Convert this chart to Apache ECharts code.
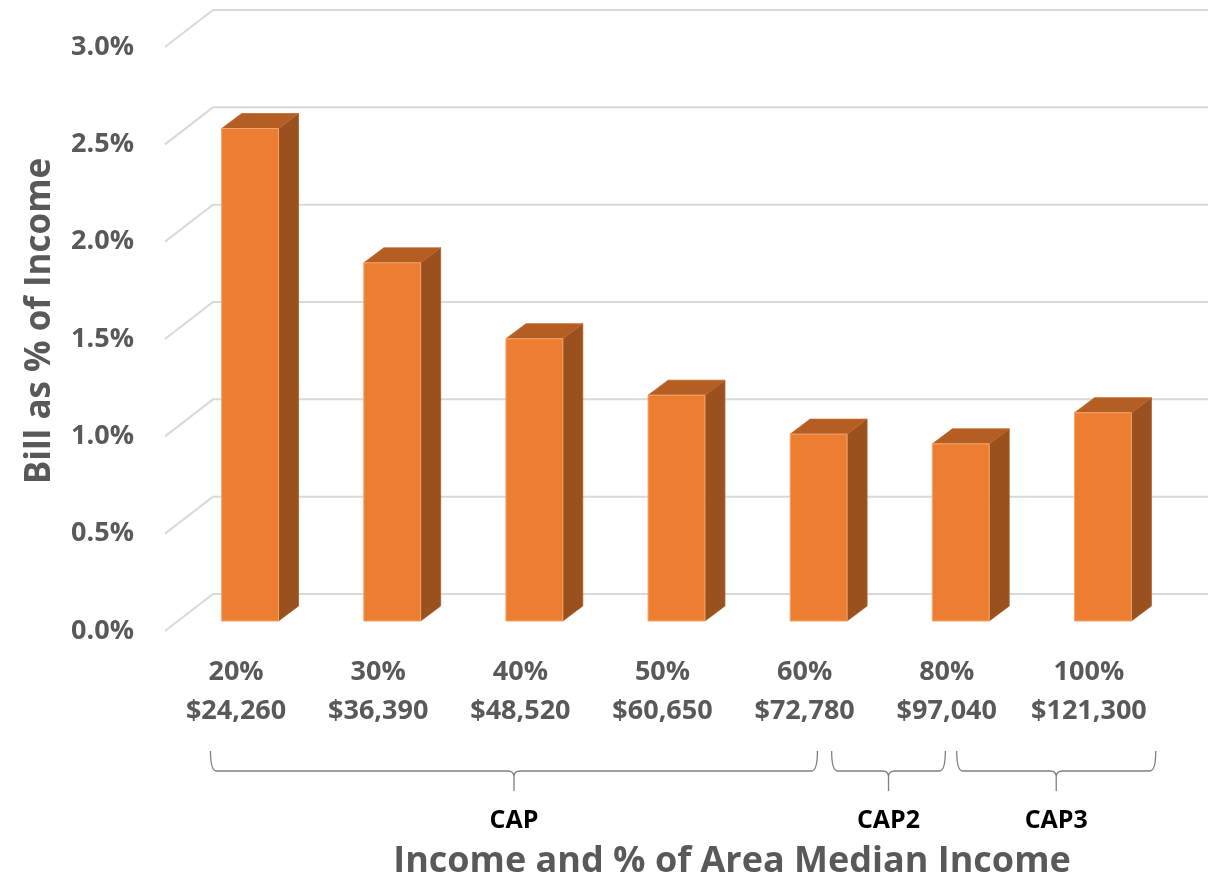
<!DOCTYPE html>
<html>
<head>
<meta charset="utf-8">
<script src="https://cdn.jsdelivr.net/npm/echarts@6/dist/echarts.min.js"></script>
<style>
html,body{margin:0;padding:0;background:#fff;}
#chart{width:1214px;height:880px;}
</style>
</head>
<body>
<div id="chart"></div>
<script>
// ---- data ----
const amiLabels = ['20%', '30%', '40%', '50%', '60%', '80%', '100%'];
const incomeLabels = ['$24,260', '$36,390', '$48,520', '$60,650', '$72,780', '$97,040', '$121,300'];
const billPct = [2.53, 1.84, 1.45, 1.16, 0.96, 0.91, 1.07];
const yTicks = [0, 0.5, 1.0, 1.5, 2.0, 2.5, 3.0];
const groupNames = ['CAP', 'CAP2', 'CAP3'];
const groupStart = [-0.18, 4.19, 5.07];   // in category units (0 = first category centre)
const groupEnd = [4.09, 4.99, 6.47];

// ---- styles ----
const DEPTH_X = 48, DEPTH_Y = -37;   // back-wall offset
const BAR_FX = 14, BAR_FY = -10;     // bar front face offset into floor
const BAR_DX = 20, BAR_DY = -15;     // bar depth
const TXT = '#595959';
const FONT = '"Open Sans", "DejaVu Sans", sans-serif';

const chart = echarts.init(document.getElementById('chart'), null, {renderer: 'canvas'});

const option = {
  backgroundColor: '#ffffff',
  animation: false,
  grid: {left: 165, right: 54, top: 47, bottom: 249, containLabel: false},
  xAxis: {
    type: 'category',
    data: amiLabels,
    axisLine: {show: false},
    axisTick: {show: false},
    splitLine: {show: false},
    axisLabel: {
      margin: 22,
      color: TXT,
      fontFamily: FONT,
      fontWeight: 'bold',
      fontSize: 27,
      lineHeight: 39,
      interval: 0,
      formatter: (v, i) => v + '\n' + incomeLabels[i]
    }
  },
  yAxis: {
    type: 'value',
    min: 0, max: 3, interval: 0.5,
    axisLine: {show: false},
    axisTick: {show: false},
    splitLine: {show: false},
    axisLabel: {
      margin: 31,
      color: TXT,
      fontFamily: FONT,
      fontWeight: 'bold',
      fontSize: 27,
      formatter: v => v.toFixed(1) + '%'
    }
  },
  graphic: [
    {
      type: 'text',
      x: 40, y: 321,
      rotation: Math.PI / 2,
      style: {
        text: 'Bill as % of Income',
        x: 0, y: 0,
        fill: TXT,
        font: 'bold 35px ' + FONT,
        align: 'center',
        verticalAlign: 'middle'
      },
      silent: true
    },
    {
      type: 'text',
      x: 732, y: 862,
      style: {
        text: 'Income and % of Area Median Income',
        x: 0, y: 0,
        fill: TXT,
        font: 'bold 36px ' + FONT,
        align: 'center',
        verticalAlign: 'middle'
      },
      silent: true
    }
  ],
  series: [
    {
      type: 'custom',
      name: 'gridlines',
      clip: false,
      silent: true,
      z: 1,
      data: yTicks.map(v => [0, v]),
      renderItem: function (params, api) {
        const cs = params.coordSys;
        const y = api.coord([0, api.value(1)])[1];
        const x0 = cs.x, x1 = cs.x + cs.width;
        return {
          type: 'polyline',
          shape: {points: [[x0, y], [x0 + DEPTH_X, y + DEPTH_Y], [x1 + DEPTH_X, y + DEPTH_Y]]},
          style: {stroke: '#d9d9d9', lineWidth: 2, fill: null}
        };
      }
    },
    {
      type: 'custom',
      name: 'Bill as % of Income',
      clip: false,
      z: 2,
      data: billPct.map((v, i) => [i, v]),
      renderItem: function (params, api) {
        const i = api.value(0), v = api.value(1);
        const base = api.coord([i, 0]);
        const top = api.coord([i, v]);
        const w = api.size([1, 0])[0] * 0.4;
        const x0 = base[0] + BAR_FX - w / 2;
        const yb = base[1] + BAR_FY;
        const yt = top[1] + BAR_FY;
        return {
          type: 'group',
          children: [
            {
              type: 'polygon',
              shape: {points: [[x0 + w, yt], [x0 + w + BAR_DX, yt + BAR_DY], [x0 + w + BAR_DX, yb + BAR_DY], [x0 + w, yb]]},
              style: {fill: '#9b511e', stroke: '#a9591f', lineWidth: 0.8}
            },
            {
              type: 'polygon',
              shape: {points: [[x0, yt], [x0 + w, yt], [x0 + w + BAR_DX, yt + BAR_DY], [x0 + BAR_DX, yt + BAR_DY]]},
              style: {fill: '#b55e23', stroke: '#c06a2e', lineWidth: 0.8}
            },
            {
              type: 'rect',
              shape: {x: x0, y: yt, width: w, height: yb - yt},
              style: {fill: '#ed7d31', stroke: '#f3a56e', lineWidth: 1}
            }
          ]
        };
      }
    },
    {
      type: 'custom',
      name: 'groups',
      clip: false,
      silent: true,
      z: 3,
      data: groupNames.map((n, k) => [groupStart[k], groupEnd[k]]),
      renderItem: function (params, api) {
        const k = params.dataIndex;
        const cs = params.coordSys;
        const c0 = api.coord([0, 0])[0];
        const bw = api.size([1, 0])[0];
        const xa = c0 + api.value(0) * bw;
        const xb = c0 + api.value(1) * bw;
        const xm = (xa + xb) / 2;
        const yBottom = cs.y + cs.height;
        const yTop = yBottom + 120, yH = yBottom + 140, yTip = yBottom + 160;
        const r = 6;
        const path =
          'M' + xa + ',' + yTop + ' Q' + xa + ',' + yH + ' ' + (xa + r) + ',' + yH +
          ' L' + (xm - r) + ',' + yH + ' Q' + xm + ',' + yH + ' ' + xm + ',' + (yH + r) +
          ' L' + xm + ',' + yTip +
          ' M' + xm + ',' + (yH + r) + ' Q' + xm + ',' + yH + ' ' + (xm + r) + ',' + yH +
          ' L' + (xb - r) + ',' + yH + ' Q' + xb + ',' + yH + ' ' + xb + ',' + yTop;
        return {
          type: 'group',
          children: [
            {
              type: 'path',
              shape: {pathData: path},
              style: {stroke: '#7f7f7f', lineWidth: 1.3, fill: null}
            },
            {
              type: 'text',
              style: {
                text: groupNames[k],
                x: xm, y: yBottom + 190,
                fill: '#000000',
                font: 'bold 25px ' + FONT,
                align: 'center',
                verticalAlign: 'middle'
              }
            }
          ]
        };
      }
    }
  ]
};
chart.setOption(option);
</script>
</body>
</html>
